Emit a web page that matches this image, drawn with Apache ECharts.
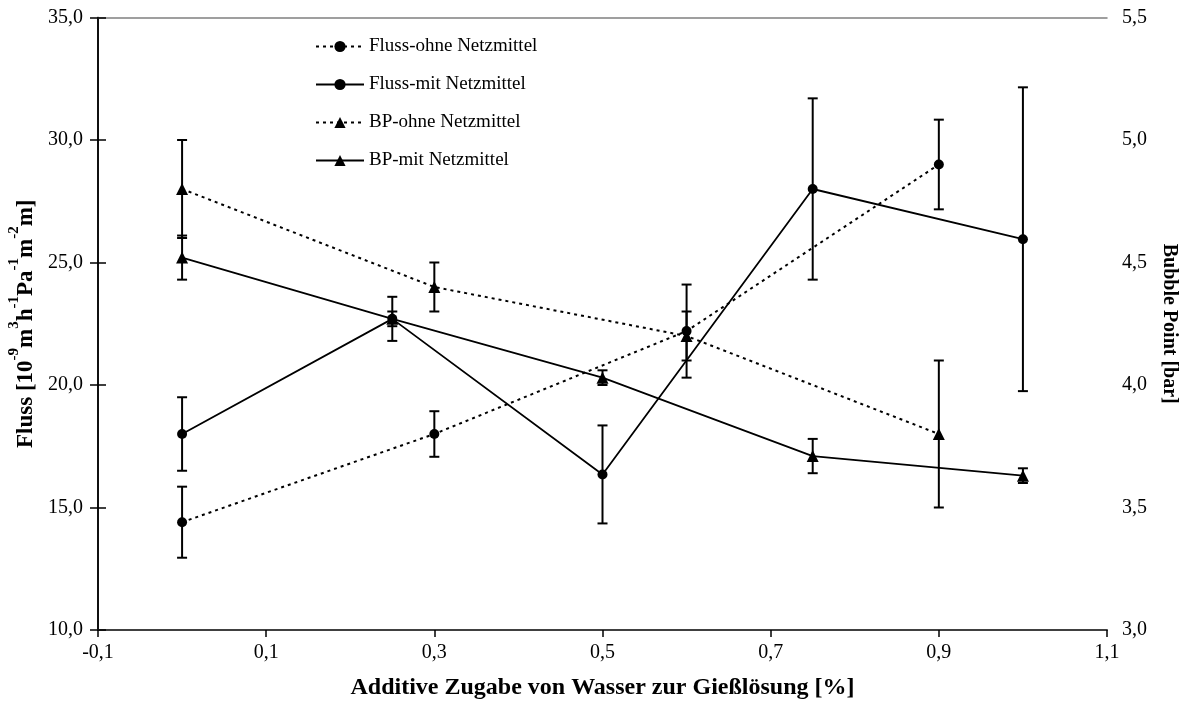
<!DOCTYPE html>
<html>
<head>
<meta charset="utf-8">
<script src="https://cdn.jsdelivr.net/npm/echarts@6/dist/echarts.min.js"></script>
<style>
  html, body { margin: 0; padding: 0; background: #fff; }
  #chart { width: 1188px; height: 709px; }
</style>
</head>
<body>
<div id="chart"></div>
<script>
'use strict'
// x values are shifted by 0.1 so the axis can start at a multiple of the interval
var X_SHIFT = 0.1;

var xOhne = [0, 0.3, 0.6, 0.9];
var xMit = [0, 0.25, 0.5, 0.75, 1.0];

var flussOhne = [14.4, 18.0, 22.2, 29.0];
var flussOhneErr = [1.45, 0.93, 1.9, 1.83];
var flussMit = [18.0, 22.7, 16.35, 28.0, 25.95];
var flussMitErr = [1.5, 0.9, 2.0, 3.7, 6.2];

var bpOhne = [4.8, 4.4, 4.2, 3.8];
var bpOhneErr = [0.2, 0.1, 0.1, 0.3];
var bpMit = [4.52, 4.27, 4.03, 3.71, 3.63];
var bpMitErr = [0.09, 0.03, 0.03, 0.07, 0.03];

var seriesNames = ['Fluss-ohne Netzmittel', 'Fluss-mit Netzmittel', 'BP-ohne Netzmittel', 'BP-mit Netzmittel'];

function points(xs, ys) {
  return xs.map(function (x, i) { return [x + X_SHIFT, ys[i]]; });
}
function errPoints(xs, ys, es) {
  return xs.map(function (x, i) { return [x + X_SHIFT, ys[i] - es[i], ys[i] + es[i]]; });
}
function comma(v) {
  return v.toFixed(1).replace('.', ',');
}

function errRender(params, api) {
  var x = api.value(0);
  var top = api.coord([x, api.value(2)]);
  var bot = api.coord([x, api.value(1)]);
  var hw = 5;
  var st = { stroke: '#000', lineWidth: 2 };
  return {
    type: 'group',
    children: [
      { type: 'line', shape: { x1: top[0], y1: top[1], x2: bot[0], y2: bot[1] }, style: st },
      { type: 'line', shape: { x1: top[0] - hw, y1: top[1], x2: top[0] + hw, y2: top[1] }, style: st },
      { type: 'line', shape: { x1: bot[0] - hw, y1: bot[1], x2: bot[0] + hw, y2: bot[1] }, style: st }
    ]
  };
}

function errSeries(data, yIndex) {
  return {
    type: 'custom',
    yAxisIndex: yIndex,
    renderItem: errRender,
    encode: { x: 0, y: [1, 2] },
    data: data,
    z: 1,
    silent: true
  };
}

var dotted = [3, 4];
var serif = '"Liberation Serif", "Times New Roman", serif';

var chart = echarts.init(document.getElementById('chart'));
chart.setOption({
  animation: false,
  textStyle: { fontFamily: serif, color: '#000' },
  grid: { left: 98, right: 81, top: 17.5, bottom: 79, outerBoundsMode: 'none', containLabel: false },
  legend: {
    data: seriesNames,
    orient: 'vertical',
    left: 310,
    top: 32,
    itemWidth: 48,
    itemHeight: 14,
    itemGap: 19,
    textStyle: { fontFamily: serif, fontSize: 19, color: '#000' }
  },
  xAxis: [
    {
      type: 'value',
      min: 0,
      max: 1.2,
      interval: 0.2,
      name: 'Additive Zugabe von Wasser zur Gießlösung [%]',
      nameLocation: 'middle',
      nameGap: 46,
      nameTextStyle: { fontFamily: serif, fontSize: 24, fontWeight: 'bold', color: '#000' },
      axisLine: { lineStyle: { color: '#404040', width: 2 } },
      axisTick: { length: 7, lineStyle: { color: '#000', width: 1.5 } },
      axisLabel: {
        margin: 13,
        fontFamily: serif,
        fontSize: 20,
        color: '#000',
        formatter: function (v) { return comma(v - X_SHIFT); }
      },
      splitLine: { show: false }
    },
    {
      type: 'value',
      position: 'top',
      min: 0,
      max: 1.2,
      axisLine: { show: true, lineStyle: { color: '#808080', width: 1.5 } },
      axisTick: { show: false },
      axisLabel: { show: false },
      splitLine: { show: false }
    }
  ],
  yAxis: [
    {
      type: 'value',
      min: 10,
      max: 35,
      interval: 5,
      name: '{b|Fluss [10}{s|-9}{b|m}{s|3}{b|h}{s|-1}{b|Pa}{s|-1}{b|m}{s|-2}{b|m]}',
      nameLocation: 'middle',
      nameGap: 60,
      nameTextStyle: {
        rich: {
          b: { fontFamily: serif, fontSize: 23, fontWeight: 'bold', color: '#000', verticalAlign: 'bottom', lineHeight: 30 },
          s: { fontFamily: serif, fontSize: 15, fontWeight: 'bold', color: '#000', verticalAlign: 'top', lineHeight: 30, padding: [0, 0, 12, 0] }
        }
      },
      axisLine: { show: true, lineStyle: { color: '#000', width: 1.5 } },
      axisTick: { show: true, length: 8, lineStyle: { color: '#000', width: 1.5 } },
      axisLabel: { margin: 15, fontFamily: serif, fontSize: 20, color: '#000', formatter: comma },
      splitLine: { show: false }
    },
    {
      type: 'value',
      min: 3,
      max: 5.5,
      interval: 0.5,
      position: 'right',
      name: 'Bubble Point [bar]',
      nameLocation: 'middle',
      nameGap: 52,
      nameRotate: -90,
      nameTextStyle: { fontFamily: serif, fontSize: 20, fontWeight: 'bold', color: '#000' },
      axisLine: { show: true, lineStyle: { color: '#000', width: 1.5 } },
      axisTick: { show: true, length: 8, lineStyle: { color: '#000', width: 1.5 } },
      axisLabel: { margin: 15, fontFamily: serif, fontSize: 20, color: '#000', formatter: comma },
      splitLine: { show: false }
    }
  ],
  series: [
    {
      name: seriesNames[0],
      type: 'line',
      yAxisIndex: 0,
      data: points(xOhne, flussOhne),
      symbol: 'circle',
      symbolSize: 10,
      itemStyle: { color: '#000' },
      lineStyle: { color: '#000', width: 2, type: dotted },
      z: 3
    },
    {
      name: seriesNames[1],
      type: 'line',
      yAxisIndex: 0,
      data: points(xMit, flussMit),
      symbol: 'circle',
      symbolSize: 10,
      itemStyle: { color: '#000' },
      lineStyle: { color: '#000', width: 1.8, type: 'solid' },
      z: 3
    },
    {
      name: seriesNames[2],
      type: 'line',
      yAxisIndex: 1,
      data: points(xOhne, bpOhne),
      symbol: 'triangle',
      symbolSize: 12,
      itemStyle: { color: '#000' },
      lineStyle: { color: '#000', width: 2, type: dotted },
      z: 3
    },
    {
      name: seriesNames[3],
      type: 'line',
      yAxisIndex: 1,
      data: points(xMit, bpMit),
      symbol: 'triangle',
      symbolSize: 12,
      itemStyle: { color: '#000' },
      lineStyle: { color: '#000', width: 1.8, type: 'solid' },
      z: 3
    },
    errSeries(errPoints(xOhne, flussOhne, flussOhneErr), 0),
    errSeries(errPoints(xMit, flussMit, flussMitErr), 0),
    errSeries(errPoints(xOhne, bpOhne, bpOhneErr), 1),
    errSeries(errPoints(xMit, bpMit, bpMitErr), 1)
  ]
});
</script>
</body>
</html>
